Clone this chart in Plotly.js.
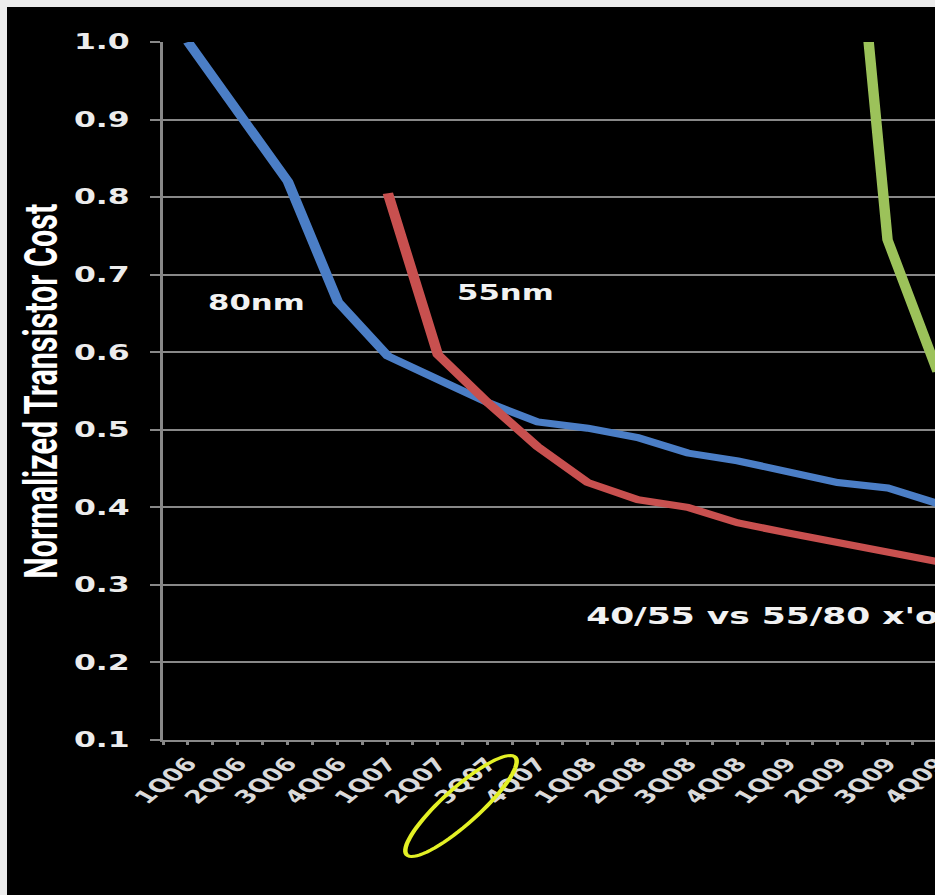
<!DOCTYPE html>
<html>
<head>
<meta charset="utf-8">
<script src="https://cdn.plot.ly/plotly-3.0.1.min.js"></script>
<style>
  html, body { margin: 0; padding: 0; width: 935px; height: 895px; overflow: hidden; background: #ececec; }
  #chart { position: absolute; left: 7px; top: 7px; transform: scaleX(1.5); transform-origin: 0 0; }
</style>
</head>
<body>
<div id="chart"></div>
<script>
// ---- data ----
const quarters = ['1Q06','2Q06','3Q06','4Q06','1Q07','2Q07','3Q07','4Q07',
                  '1Q08','2Q08','3Q08','4Q08','1Q09','2Q09','3Q09','4Q09'];
const cost80nm = [1.00, 0.91, 0.82, 0.665, 0.595, 0.565, 0.535, 0.51,
                  0.502, 0.49, 0.47, 0.46, 0.445, 0.432, 0.425, 0.405];
const cost55nm = [null, null, null, null, 0.805, 0.597, 0.535, 0.478,
                  0.432, 0.41, 0.40, 0.38, 0.367, 0.354, 0.343, 0.33];
const cost40nm = [null, null, null, null, null, null, null, null,
                  null, null, null, null, null, 1.42, 0.745, 0.575];
const yTicks = [0.1, 0.2, 0.3, 0.4, 0.5, 0.6, 0.7, 0.8, 0.9, 1.0];

// ---- geometry (page pixels; chart is stretched horizontally by S) ----
const S = 1.5;
const W = 667, H = 888;
const ML = 104, MR = 30, MT = 35, MB = 155;
const PW = W - ML - MR, PH = H - MT - MB;
const OFFX = 7, OFFY = 7;
const px2x = px => ((px - OFFX) / S - ML) / PW;
const py2y = py => (H - MB + OFFY - py) / PH;

// yellow ellipse around 3Q07/4Q07 labels
function ellipsePath(cx, cy, a, b, dx, dy) {
  const len = Math.hypot(dx, dy); const ux = dx/len, uy = dy/len;
  const vx = -uy, vy = ux;
  let p = '';
  for (let k = 0; k <= 72; k++) {
    const t = k / 72 * 2 * Math.PI;
    const X = cx + a*Math.cos(t)*ux + b*Math.sin(t)*vx;
    const Y = cy + a*Math.cos(t)*uy + b*Math.sin(t)*vy;
    p += (k === 0 ? 'M' : 'L') + px2x(X).toFixed(5) + ',' + py2y(Y).toFixed(5);
  }
  return p + 'Z';
}

const gridCol = '#888888';
const traces = [
  {type:'scatter', mode:'lines', x: quarters, y: cost80nm, name:'80nm',
   line:{color:'#4b7ec6', width:7}, hoverinfo:'skip'},
  {type:'scatter', mode:'lines', x: quarters, y: cost55nm, name:'55nm',
   line:{color:'#c8504f', width:7}, hoverinfo:'skip'},
  {type:'scatter', mode:'lines', x: quarters, y: cost40nm, name:'40nm',
   line:{color:'#9cc25a', width:7}, hoverinfo:'skip'},
  {type:'scatter', mode:'lines', x:[0], y:[null], xaxis:'x2', yaxis:'y',
   showlegend:false, hoverinfo:'skip'}
];

const layout = {
  width: W, height: H,
  margin: {l: ML, r: MR, t: MT, b: MB, pad: 0},
  paper_bgcolor: '#000', plot_bgcolor: '#000',
  showlegend: false,
  xaxis: {
    type:'category', categoryorder:'array', categoryarray: quarters,
    range:[-0.5, 15.5], showgrid:false, zeroline:false,
    showline:true, linecolor:gridCol, linewidth:2,
    ticks:'', tickangle:-50, ticklabelstandoff: 4,
    tickfont:{family:'DejaVu Sans', size:18, color:'#dadada', weight:'bold'}
  },
  xaxis2: {
    overlaying:'x', anchor:'y', side:'bottom', range:[-0.5, 15.5],
    tick0:-0.5, dtick:0.5, ticks:'outside', ticklen:4, tickwidth:2, tickcolor:gridCol,
    showticklabels:false, showgrid:false, zeroline:false, showline:false
  },
  yaxis: {
    range:[0.1, 1.0], tickmode:'array', tickvals: yTicks, tickformat:'.1f',
    showgrid:true, gridcolor:gridCol, gridwidth:2, zeroline:false,
    showline:true, linecolor:gridCol, linewidth:2,
    ticks:'outside', ticklen:7, tickwidth:2, tickcolor:gridCol, ticklabelstandoff: 9,
    tickfont:{family:'DejaVu Sans', size:21, color:'#ececec', weight:'bold'}
  },
  annotations: [
    {text:'Normalized Transistor Cost', xref:'paper', yref:'paper',
     x: px2x(41), y: 0.5, textangle:-90, showarrow:false, xanchor:'center', yanchor:'middle',
     font:{family:'Roboto', size:30.5, color:'#ffffff', weight:'bold'}},
    {text:'80nm', xref:'paper', yref:'paper', x: px2x(256), y: py2y(303),
     showarrow:false, xanchor:'center', yanchor:'middle',
     font:{family:'DejaVu Sans', size:20.5, color:'#f2f2f2', weight:'bold'}},
    {text:'55nm', xref:'paper', yref:'paper', x: px2x(505), y: py2y(293),
     showarrow:false, xanchor:'center', yanchor:'middle',
     font:{family:'DejaVu Sans', size:20.5, color:'#f2f2f2', weight:'bold'}},
    {text:"40/55 vs 55/80 x'over", xref:'paper', yref:'paper', x: px2x(583), y: py2y(616),
     showarrow:false, xanchor:'left', yanchor:'middle',
     font:{family:'DejaVu Sans', size:23, color:'#f2f2f2', weight:'bold'}}
  ],
  shapes: [
    {type:'path', xref:'paper', yref:'paper', path: ellipsePath(461, 806, 73, 18, 0.745, -0.667),
     line:{color:'#e3f025', width:3}, fillcolor:'rgba(0,0,0,0)'}
  ]
};

Plotly.newPlot('chart', traces, layout, {staticPlot:true, displayModeBar:false});
</script>
</body>
</html>
